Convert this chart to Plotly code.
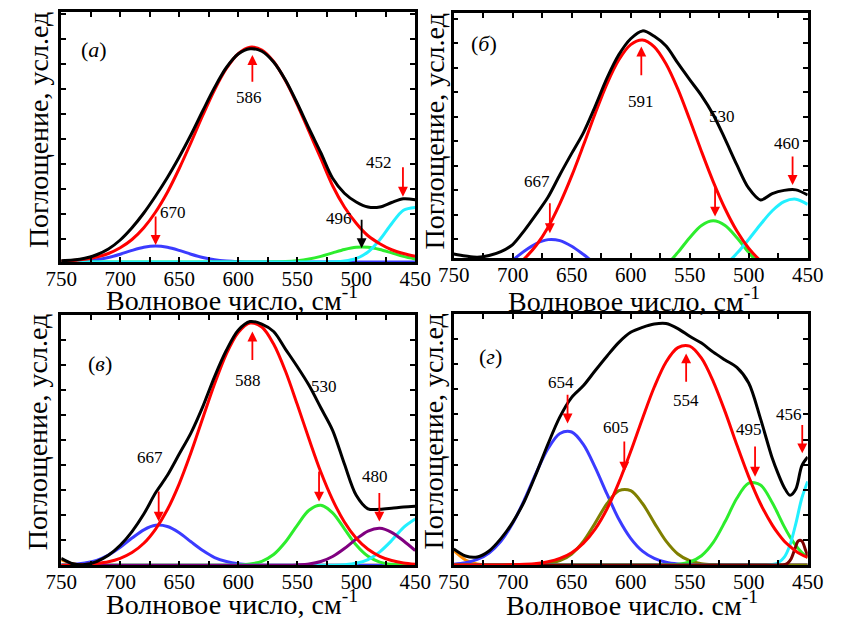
import plotly.graph_objects as go

# ---------------- data ----------------
X = [750, 740, 730, 720, 710, 700, 690, 680, 670, 660, 650, 640, 630, 620, 610, 600,
     590, 580, 570, 560, 550, 540, 530, 520, 510, 500, 490, 480, 470, 460, 450]
X_D = [750, 740, 730, 720, 710, 700, 690, 680, 670, 660, 650, 640, 630, 620, 610, 600,
       590, 580, 570, 560, 550, 540, 530, 520, 510, 500, 490, 480, 475, 470, 465, 460, 455, 450]
X_MAROON = [750, 480, 475, 470, 467, 464, 461, 458, 455, 452, 450]

# panel (а)
black_a = [0.5, 0.8, 1.5, 2.9, 5.2, 8.8, 13.7, 19.6, 26.4, 33.8, 42.0, 50.9, 60.5, 69.8, 77.8, 83.2,
           85.3, 84.3, 80.0, 72.8, 63.5, 53.4, 43.7, 33.5, 27.5, 24.0, 22.0, 22.0, 23.8, 25.3, 24.9]
red_a = [0.3, 0.6, 1.1, 2.0, 3.4, 5.7, 9.0, 13.7, 20.0, 27.9, 37.4, 47.8, 58.7, 68.9, 77.4, 83.3,
         85.9, 84.8, 80.2, 72.6, 63.0, 52.2, 41.4, 30.5, 22.0, 15.5, 10.5, 7.3, 4.9, 3.4, 2.3]
blue_a = [0.04, 0.13, 0.36, 0.86, 1.78, 3.12, 4.65, 5.9, 6.4, 5.9, 4.65, 3.12, 1.78, 0.86, 0.36, 0.13,
          0.04, 0, 0, 0, 0, 0, 0, 0, 0, 0, 0, 0, 0, 0, 0]
green_a = [0, 0, 0, 0, 0, 0, 0, 0, 0, 0, 0, 0, 0, 0, 0, 0,
           0, 0.02, 0.07, 0.2, 0.53, 1.19, 2.25, 3.64, 5.0, 5.88, 5.88, 5.0, 3.64, 2.25, 1.19]
cyan_a = [0, 0, 0, 0, 0, 0, 0, 0, 0, 0, 0, 0, 0, 0, 0, 0,
          0, 0, 0, 0, 0, 0, 0, 0.08, 0.38, 1.4, 4.0, 8.9, 15.3, 20.7, 21.8]

# panel (б)
black_b = [11.6, 10.8, 10.3, 11.0, 12.6, 15.5, 21.3, 27.9, 34.9, 44.0, 52.7, 61.2, 72.0, 83.5, 93.0, 99.5,
           102.7, 100.5, 96.5, 89.5, 82.8, 76.3, 68.5, 58.5, 48.0, 38.5, 33.7, 36.3, 37.6, 37.8, 35.7]
red_b = [0.25, 0.5, 1.0, 2.0, 3.5, 6.0, 9.8, 15.2, 22.6, 32.2, 43.5, 56.1, 69.1, 81.2, 90.9, 97.1,
         99.0, 96.2, 89.2, 78.9, 66.5, 53.5, 41.1, 30.1, 21.0, 14.0, 8.9, 5.4, 3.1, 1.7, 0.9]
blue_b = [0.3, 0.7, 1.7, 3.3, 5.9, 9.2, 12.9, 15.9, 17.5, 17.1, 14.8, 11.4, 7.8, 4.7, 2.5, 1.2,
          0.5, 0.2, 0, 0, 0, 0, 0, 0, 0, 0, 0, 0, 0, 0, 0]
green_b = [0, 0, 0, 0, 0, 0, 0, 0, 0, 0, 0, 0, 0, 0, 0.15, 0.5,
           1.4, 3.4, 7.0, 12.3, 18.3, 23.3, 25.2, 23.3, 18.3, 12.3, 7.0, 3.4, 1.4, 0.5, 0.1]
cyan_b = [0, 0, 0, 0, 0, 0, 0, 0, 0, 0, 0, 0, 0, 0, 0, 0,
          0, 0, 0.2, 0.4, 1.0, 2.1, 4.1, 7.2, 11.9, 17.6, 23.7, 29.3, 33.0, 34.0, 31.9]

# panel (в)
black_c = [2.8, 0.6, 0.3, 1.5, 4.0, 8.0, 13.5, 20.5, 29.0, 36.0, 44.5, 53.0, 63.5, 75.5, 86.0, 94.0,
           97.5, 96.5, 93.5, 86.5, 79.5, 72.0, 63.0, 54.0, 40.5, 28.0, 22.6, 22.4, 22.8, 23.3, 23.6]
red_c = [0.06, 0.14, 0.3, 0.7, 1.4, 2.8, 5.1, 8.8, 14.5, 22.3, 32.6, 45.1, 58.9, 72.6, 84.6, 93.1,
         96.9, 95.3, 88.5, 77.7, 64.4, 50.5, 37.3, 26.2, 17.3, 10.8, 6.4, 3.6, 1.9, 0.9, 0.4]
blue_c = [0.1, 0.3, 0.9, 2.0, 4.1, 7.2, 10.9, 14.2, 16.0, 15.5, 13.0, 9.4, 5.9, 3.1, 1.5, 0.6,
          0.2, 0.05, 0, 0, 0, 0, 0, 0, 0, 0, 0, 0, 0, 0, 0]
green_c = [0, 0, 0, 0, 0, 0, 0, 0, 0, 0, 0, 0, 0, 0, 0, 0.1,
           0.5, 1.6, 4.3, 9.3, 16.0, 22.0, 24.0, 21.0, 14.6, 8.1, 3.6, 1.3, 0.4, 0.1, 0]
purple_c = [0, 0, 0, 0, 0, 0, 0, 0, 0, 0, 0, 0, 0, 0, 0, 0,
            0, 0, 0, 0.03, 0.16, 0.5, 1.5, 3.5, 6.7, 10.5, 13.7, 14.8, 13.2, 9.8, 5.9]
cyan_c = [0, 0, 0, 0, 0, 0, 0, 0, 0, 0, 0, 0, 0, 0, 0, 0,
          0, 0, 0, 0, 0, 0, 0, 0.06, 0.25, 0.8, 2.3, 5.4, 9.9, 15.1, 18.5]
orange_c = [2.2, 0.6, 0.1, 0, 0, 0, 0, 0, 0, 0, 0, 0, 0, 0, 0, 0,
            0, 0, 0, 0, 0, 0, 0, 0, 0, 0, 0, 0, 0, 0, 0]

# panel (г)
black_d = [6.4, 3.6, 3.2, 5.6, 10.5, 17.0, 25.5, 36.5, 48.3, 59.0, 66.8, 71.5, 77.5, 83.3, 88.7, 92.7,
           94.7, 96.0, 96.2, 94.2, 91.1, 88.4, 84.8, 81.7, 78.7, 72.5, 58.3, 42.5, 36.3, 31.0, 27.8, 30.3, 39.5, 43.0]
blue_d = [0.3, 0.9, 2.2, 4.8, 9.4, 16.6, 26.1, 36.8, 46.4, 52.4, 53.0, 48.0, 38.8, 28.2, 18.2, 10.6,
          5.5, 2.6, 1.1, 0.4, 0.1, 0, 0, 0, 0, 0, 0, 0, 0, 0, 0, 0, 0, 0]
red_d = [0, 0, 0, 0.02, 0.04, 0.1, 0.27, 0.6, 1.3, 2.6, 4.9, 8.7, 14.4, 22.4, 32.9, 45.2,
         58.4, 70.9, 80.9, 86.6, 87.2, 82.4, 73.1, 61.1, 47.8, 35.2, 24.4, 15.9, 12.5, 9.6, 7.4, 5.5, 4.1, 3.0]
olive_d = [0, 0, 0, 0, 0, 0, 0.03, 0.15, 0.55, 1.7, 4.4, 9.5, 16.8, 24.5, 29.6, 29.6,
           24.5, 16.8, 9.5, 4.4, 1.7, 0.55, 0.15, 0.03, 0, 0, 0, 0, 0, 0, 0, 0, 0, 0]
green_d = [0, 0, 0, 0, 0, 0, 0, 0, 0, 0, 0, 0, 0, 0, 0, 0,
           0, 0, 0.07, 0.3, 1.2, 3.7, 9.0, 17.3, 26.6, 32.6, 31.9, 24.8, 20.2, 15.4, 11.2, 7.7, 5.0, 3.0]
cyan_d = [0, 0, 0, 0, 0, 0, 0, 0, 0, 0, 0, 0, 0, 0, 0, 0,
          0, 0, 0, 0, 0, 0, 0, 0, 0, 0, 0, 0.2, 0.9, 3.0, 8.0, 16.6, 26.6, 33.3]
orange_d = [5.8, 2.0, 0.4, 0.05, 0, 0, 0, 0, 0, 0, 0, 0, 0, 0, 0, 0,
            0, 0, 0, 0, 0, 0, 0, 0, 0, 0, 0, 0, 0, 0, 0, 0, 0, 0]
maroon_d = [0, 0, 0, 0.1, 0.7, 2.5, 6.2, 9.6, 9.6, 6.2, 3.6]

# peak labels
labels_a = ["586", "670", "496", "452"]
labels_b = ["591", "530", "667", "460"]
labels_c = ["588", "530", "667", "480"]
labels_d = ["654", "605", "554", "495", "456"]
panel_names = ["(<i>а</i>)", "(<i>б</i>)", "(<i>в</i>)", "(<i>г</i>)"]
x_titles = ["Волновое число, см<sup>-1</sup>", "Волновое число, см<sup>-1</sup>",
            "Волновое число, см<sup>-1</sup>", "Волновое число. см<sup>-1</sup>"]
y_title = "Поглощение, усл.ед"
x_tickvals = [750, 725, 700, 675, 650, 625, 600, 575, 550, 525, 500, 475, 450]
x_ticktext = ["750", " ", "700", " ", "650", " ", "600", " ", "550", " ", "500", " ", "450"]

# ---------------- colours ----------------
C = dict(black="#000000", red="#ff0000", blue="#3b3bff", green="#2ded2d", cyan="#22f0ff",
         purple="#800080", olive="#7f7f00", maroon="#7a0000", orange="#ff8a00")

FONT = "Liberation Serif, Times New Roman, serif"
W, H = 841, 621

fig = go.Figure()


def add(x, y, color, n):
    fig.add_trace(go.Scatter(x=x, y=y, mode="lines", line=dict(color=C[color], width=3, shape="spline", smoothing=0.9),
                             xaxis="x" if n == 1 else f"x{n}", yaxis="y" if n == 1 else f"y{n}",
                             showlegend=False, hoverinfo="skip"))


add(X, blue_a, "blue", 1); add(X, green_a, "green", 1); add(X, cyan_a, "cyan", 1); add(X, red_a, "red", 1); add(X, black_a, "black", 1)
add(X, blue_b, "blue", 2); add(X, green_b, "green", 2); add(X, cyan_b, "cyan", 2); add(X, red_b, "red", 2); add(X, black_b, "black", 2)
add(X, orange_c, "orange", 3); add(X, blue_c, "blue", 3); add(X, green_c, "green", 3); add(X, cyan_c, "cyan", 3)
add(X, purple_c, "purple", 3); add(X, red_c, "red", 3); add(X, black_c, "black", 3)
add(X_D, orange_d, "orange", 4); add(X_D, blue_d, "blue", 4); add(X_D, olive_d, "olive", 4); add(X_D, green_d, "green", 4)
add(X_D, cyan_d, "cyan", 4); add(X_MAROON, maroon_d, "maroon", 4); add(X_D, red_d, "red", 4); add(X_D, black_d, "black", 4)

# panel geometry in pixels: left, right, top, bottom ; y range ; tick0
geo = [
    (47, 415, 12, 262, [0, 100], 9.2),
    (455, 823, 13, 258, [10, 110], 7.6),
    (47, 415, 315.3, 565.3, [0, 100], 0),
    (455, 823, 314, 565, [0, 100], 0),
]
layout = dict(width=W, height=H, margin=dict(l=0, r=0, t=0, b=0), paper_bgcolor="white", plot_bgcolor="white",
              font=dict(family=FONT, color="black"))
for i, (l, r, t, b, yr, t0) in enumerate(geo, start=1):
    sx = "" if i == 1 else str(i)
    layout["xaxis" + sx] = dict(domain=[l / W, r / W], range=[750, 450], anchor="y" + sx,
                                tickmode="array", tickvals=x_tickvals, ticktext=x_ticktext,
                                ticks="inside", ticklen=5, tickwidth=1.5, tickcolor="black",
                                showline=True, linewidth=2.5, linecolor="black", mirror="ticks",
                                showgrid=False, zeroline=False, tickfont=dict(family=FONT, size=21, color="black"),
                                ticklabelstandoff=-4)
    layout["yaxis" + sx] = dict(domain=[1 - b / H, 1 - t / H], range=yr, anchor="x" + sx,
                                tickmode="linear", tick0=t0, dtick=10, showticklabels=False,
                                ticks="inside", ticklen=5, tickwidth=1.5, tickcolor="black",
                                showline=True, linewidth=2.5, linecolor="black", mirror="ticks",
                                showgrid=False, zeroline=False)
fig.update_layout(**layout)

ann = []


def txt(n, x, y, s, size=17):
    sx = "" if n == 1 else str(n)
    ann.append(dict(xref="x" + sx, yref="y" + sx, x=x, y=y, text=s, showarrow=False,
                    font=dict(family=FONT, size=size, color="black"), xanchor="center", yanchor="middle"))


def arrow(n, x, y_tail, y_tip, color="red"):
    sx = "" if n == 1 else str(n)
    ann.append(dict(xref="x" + sx, yref="y" + sx, axref="x" + sx, ayref="y" + sx, x=x, y=y_tip, ax=x, ay=y_tail,
                    text="", showarrow=True, arrowhead=2, arrowsize=1.1, arrowwidth=1.8, arrowcolor=color))


# panel а
txt(1, 722, 84.8, panel_names[0], 22)
txt(1, 590.5, 65.9, labels_a[0]); arrow(1, 588, 71.5, 82.8)
txt(1, 655, 19.9, labels_a[1]); arrow(1, 670, 18.8, 6.8)
txt(1, 515, 17.5, labels_a[2]); arrow(1, 495.4, 17.5, 5.5, "black")
txt(1, 481, 39.9, labels_a[3]); arrow(1, 460.4, 38.5, 26.1)
# panel б
txt(2, 724, 97.6, panel_names[1], 22)
txt(2, 591.6, 73.8, labels_b[0]); arrow(2, 591, 84, 96.3)
txt(2, 523, 67.7, labels_b[1]); arrow(2, 528.5, 39.8, 26.9)
txt(2, 679.3, 41.2, labels_b[2]); arrow(2, 668.5, 33, 20.1)
txt(2, 467.4, 56.8, labels_b[3]); arrow(2, 462.8, 52, 39.8)
# panel в
txt(3, 717, 80.8, panel_names[2], 22)
txt(3, 592.1, 73.9, labels_c[0]); arrow(3, 588, 81.5, 93.5)
txt(3, 527.4, 71.7, labels_c[1]); arrow(3, 531.5, 38.1, 25.5)
txt(3, 674.7, 43.2, labels_c[2]); arrow(3, 667.4, 30.1, 17.5)
txt(3, 484.5, 35.5, labels_c[3]); arrow(3, 480.4, 29.5, 17.5)
# panel г
txt(4, 719, 83, panel_names[3], 22)
txt(4, 659, 72.6, labels_d[0]); arrow(4, 653.5, 68.4, 56.4)
txt(4, 612.2, 54.8, labels_d[1]); arrow(4, 605.4, 49.8, 37.2)
txt(4, 553, 65.7, labels_d[2]); arrow(4, 553, 72.4, 84.3)
txt(4, 500, 54.0, labels_d[3]); arrow(4, 494.6, 47.8, 35.2)
txt(4, 466, 59.8, labels_d[4]); arrow(4, 454.6, 56.4, 44.5)

# axis titles (paper coordinates from pixel positions)
xt_pos = [(225, 298), (642, 300), (225, 602), (640, 603)]
yt_pos = [(23, 130), (435, 131), (22, 432), (433, 432)]
for i in range(4):
    px, py = xt_pos[i]
    ann.append(dict(xref="paper", yref="paper", x=px / W, y=1 - py / H, text=x_titles[i], showarrow=False,
                    xanchor="center", yanchor="middle", font=dict(family=FONT, size=28, color="black")))
    px, py = yt_pos[i]
    ann.append(dict(xref="paper", yref="paper", x=px / W, y=1 - py / H, text=y_title, showarrow=False,
                    textangle=-90, xanchor="center", yanchor="middle", font=dict(family=FONT, size=28, color="black")))

fig.update_layout(annotations=ann)
fig.write_html("out.html")
